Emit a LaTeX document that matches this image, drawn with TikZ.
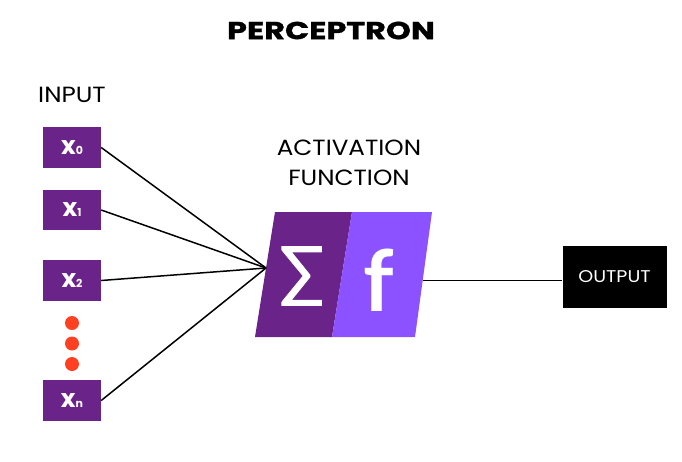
\documentclass[tikz,border=0pt]{standalone}
\usepackage{fontspec}
\setmainfont{Poppins}
\newfontfamily\symfont{Lato}
\newfontfamily\sigfont[FakeBold=1.5]{Lato}
\newfontfamily\titlefont[FakeStretch=1.3,FakeBold=1.2]{Poppins Bold}
\newfontfamily\lblfont[FakeStretch=1.12]{Poppins}
\definecolor{dpurple}{HTML}{6A2389}
\definecolor{lpurple}{HTML}{8C52FF}
\definecolor{dotred}{HTML}{FF4023}
\newcommand{\boxlbl}[1]{x\fontsize{11}{11}\selectfont #1}
\begin{document}
\begin{tikzpicture}[x=1pt,y=-1pt,
  inbox/.style={fill=dpurple,minimum width=58pt,minimum height=40.5pt,inner sep=0pt,text=white,font=\fontsize{25}{25}\bfseries},
  dotnode/.style={circle,fill=dotred,minimum size=14pt,inner sep=0pt},
  conn/.style={line width=1.5pt,black},
  lbl/.style={font=\lblfont\fontsize{22}{30}\selectfont,align=center}]
\useasboundingbox (0,0) rectangle (682,461);
\node[font=\titlefont\fontsize{24.5}{24.5}\selectfont] (title) at (331,30.5) {PERCEPTRON};
\node[lbl] (input) at (72,95) {INPUT};
\node[lbl] (act) at (349,163) {ACTIVATION\\FUNCTION};
\node[inbox] (x0) at (72,147.5) {\boxlbl{0}};
\node[inbox] (x1) at (72,210) {\boxlbl{1}};
\node[inbox] (x2) at (72,280.5) {\boxlbl{2}};
\node[inbox] (xn) at (72,400.5) {\boxlbl{n}};
\node[dotnode] (d1) at (72,323) {};
\node[dotnode] (d2) at (72,343.5) {};
\node[dotnode] (d3) at (72,364) {};
\coordinate (conv) at (266,268);
\fill[dpurple] (275,212) -- (352,212) -- (332,337) -- (255,337) -- cycle;
\fill[lpurple] (352,212) -- (432,212) -- (415,337) -- (332,337) -- cycle;
\node[text=white,font=\sigfont\fontsize{66}{66}\selectfont] (sig) at (302,276) {∑};
\node[text=white,font=\symfont\fontsize{85}{85}\bfseries] (f) at (379,280) {f};
\coordinate (actout) at (423,280.5);
\node[fill=black,minimum width=104pt,minimum height=62pt,inner sep=0pt,text=white,font=\lblfont\fontsize{17}{17}\selectfont] (out) at (614.5,277) {OUTPUT};
\draw[conn] (x0.east) -- (conv);
\draw[conn] (x1.east) -- (conv);
\draw[conn] (x2.east) -- (conv);
\draw[conn] (xn.east) -- (conv);
\draw[conn] (actout) -- (out.west |- actout);
\end{tikzpicture}
\end{document}
